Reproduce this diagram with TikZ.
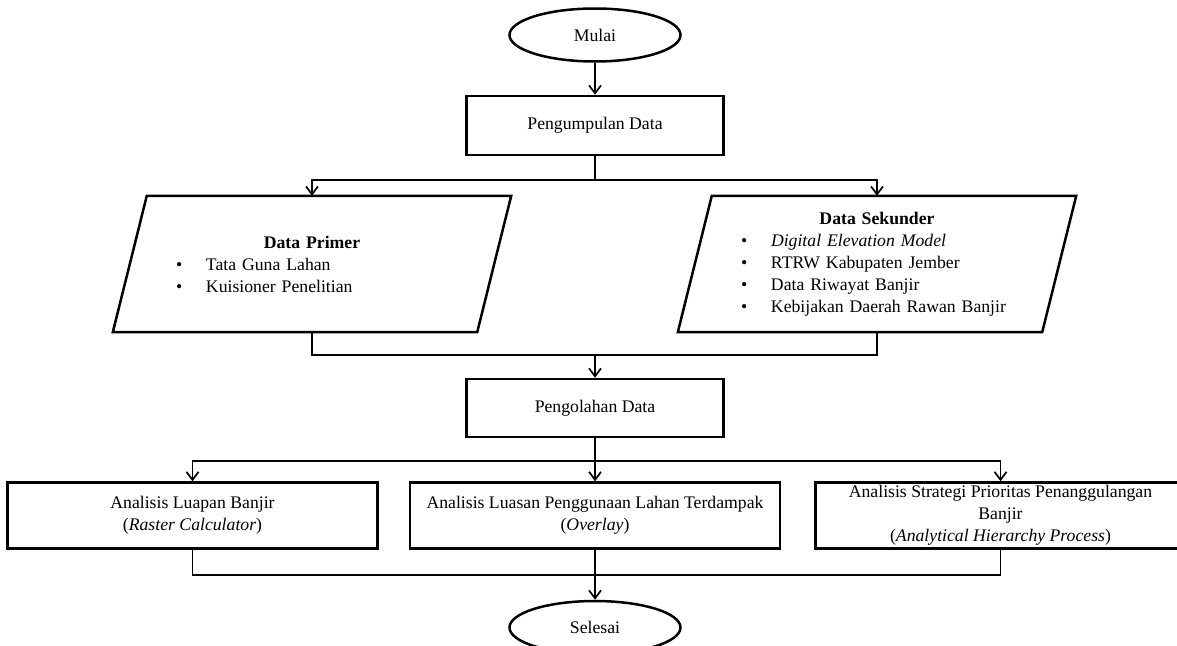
\documentclass[tikz,border=0pt]{standalone}
\usepackage{fontspec}
\setmainfont{Liberation Serif}
\usetikzlibrary{shapes.geometric, arrows.meta, positioning}

\newcommand{\itm}[1]{\makebox[272pt][l]{\makebox[30pt][l]{\textbullet}#1}}

\begin{document}
\begin{tikzpicture}[
    x=1pt, y=1pt,
    font=\fontsize{17.7}{22}\selectfont,
    box/.style={rectangle, draw, line width=2.5pt, minimum width=257pt,
                minimum height=59pt, align=center, inner sep=1pt},
    term/.style={ellipse, draw, line width=2.5pt, minimum width=171pt, minimum height=53pt},
    datain/.style={rectangle, minimum width=398pt, minimum height=136pt,
                   text width=272pt, align=center},
    para/.style={line width=2.5pt, line join=miter},
    proc/.style={box, minimum width=370pt, minimum height=66pt},
    arr/.style={-{Straight Barb[length=8pt, width=12pt]}, line width=1.7pt},
    ln/.style={line width=1.7pt},
]
    \useasboundingbox (0,0) rectangle (1177,-645);

    \node[term] (mulai) at (595,-35) {Mulai};
    \node[box, below=32pt of mulai] (kumpul) {Pengumpulan Data};
    \node[datain] (primer) at (312,-264)
        {\textbf{Data Primer}\\ \itm{Tata Guna Lahan}\\ \itm{Kuisioner Penelitian}};
    \node[datain] (sekunder) at (877,-264)
        {\textbf{Data Sekunder}\\ \itm{\textit{Digital Elevation Model}}\\ \itm{RTRW Kabupaten Jember}\\
         \itm{Data Riwayat Banjir}\\ \itm{Kebijakan Daerah Rawan Banjir}};
    \draw[para] ([xshift=34pt]primer.north west) -- (primer.north east)
        -- ([xshift=-34pt]primer.south east) -- (primer.south west) -- cycle;
    \draw[para] ([xshift=34pt]sekunder.north west) -- (sekunder.north east)
        -- ([xshift=-34pt]sekunder.south east) -- (sekunder.south west) -- cycle;
    \node[box, minimum height=58pt] (olah) at (595,-408) {Pengolahan Data};
    \node[proc, below=43pt of olah] (luasan)
        {Analisis Luasan Penggunaan Lahan Terdampak\\ (\textit{Overlay})};
    \node[proc, left=30pt of luasan] (luapan) {Analisis Luapan Banjir\\ (\textit{Raster Calculator})};
    \node[proc, right=33pt of luasan] (ahp)
        {Analisis Strategi Prioritas Penanggulangan\\ Banjir\\ (\textit{Analytical Hierarchy Process})};
    \node[term, below=50pt of luasan] (selesai) {Selesai};

    \draw[arr] (mulai) -- (kumpul);
    \draw[arr] (kumpul.south) -- ++(0,-24) -| (primer.north);
    \draw[arr] (kumpul.south) -- ++(0,-24) -| (sekunder.north);
    \draw[ln] (primer.south) -- ++(0,-23) coordinate (j1) -| (sekunder.south);
    \draw[arr] (j1 -| olah.north) -- (olah.north);
    \draw[arr] (olah.south) -- ++(0,-23) -| (luapan.north);
    \draw[arr] (olah.south) -- ++(0,-23) -| (ahp.north);
    \draw[arr] (olah) -- (luasan);
    \draw[ln] (luapan.south) -- ++(0,-25) coordinate (j2) -| (ahp.south);
    \draw[arr] (luasan) -- (selesai);
\end{tikzpicture}
\end{document}
